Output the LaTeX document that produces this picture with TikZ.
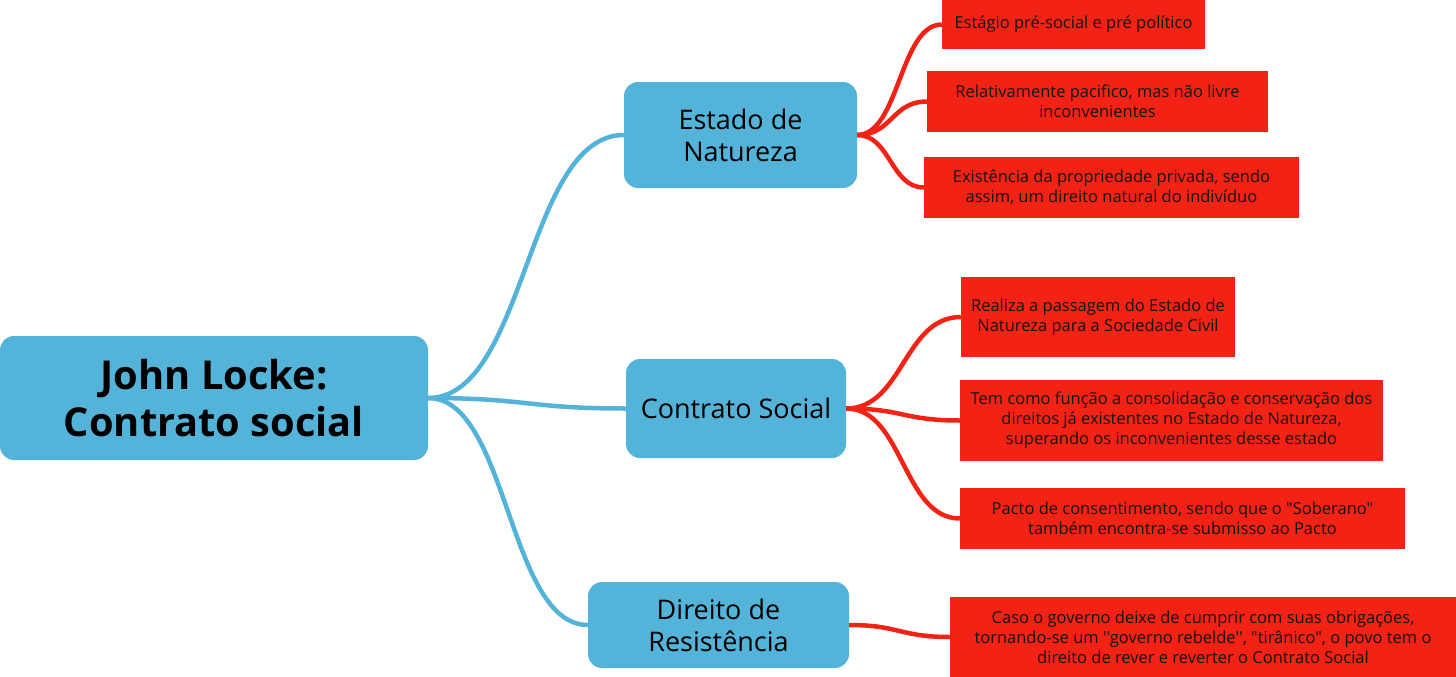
\documentclass[tikz,border=0pt]{standalone}
\usepackage{fontspec}
\setmainfont{Open Sans}
\newfontfamily\osans{Open Sans}
\definecolor{mmblue}{RGB}{84,179,217}
\definecolor{mmred}{RGB}{242,35,20}
\begin{document}
\begin{tikzpicture}[x=1pt,y=-1pt,
  rootbox/.style={fill=mmblue, rounded corners=14pt, inner sep=0pt, align=center,
    minimum width=428pt, minimum height=124pt, font=\osans\fontsize{39.8}{47}\selectfont\bfseries},
  topicbox/.style={fill=mmblue, rounded corners=14pt, inner sep=0pt, align=center,
    font=\osans\fontsize{27}{32}\selectfont},
  leafbox/.style={fill=mmred, inner sep=0pt, align=center, text=black!92,
    font=\osans\fontsize{16.5}{20}\selectfont},
  bluelink/.style={draw=mmblue, line width=4.5pt},
  redlink/.style={draw=mmred, line width=4.5pt}]
\useasboundingbox (0,0) rectangle (1456,677);

\node[rootbox] (root) at (214,398) {John Locke:\\Contrato social};

\node[topicbox, minimum width=233pt, minimum height=106pt] (estado) at (740.5,135) {Estado de\\Natureza};
\node[topicbox, minimum width=220pt, minimum height=99pt] (contrato) at (736,408.5) {Contrato Social};
\node[topicbox, minimum width=261pt, minimum height=86pt] (direito) at (718.5,625) {Direito de\\Resistência};

\node[leafbox, minimum width=263pt, minimum height=49pt] (r1) at (1073.5,24.5) {Estágio pré-social e pré político};
\node[leafbox, minimum width=341pt, minimum height=61pt] (r2) at (1097.5,101.5) {Relativamente pacifico, mas não livre\\inconvenientes};
\node[leafbox, minimum width=375pt, minimum height=61pt] (r3) at (1111.5,187.5) {Existência da propriedade privada, sendo\\assim, um direito natural do indivíduo};
\node[leafbox, minimum width=274pt, minimum height=80pt] (r4) at (1098,317) {Realiza a passagem do Estado de\\Natureza para a Sociedade Civil};
\node[leafbox, minimum width=423pt, minimum height=81pt] (r5) at (1171.5,420.5) {Tem como função a consolidação e conservação dos\\direitos já existentes no Estado de Natureza,\\superando os inconvenientes desse estado};
\node[leafbox, minimum width=445pt, minimum height=61pt] (r6) at (1182.5,518.5) {Pacto de consentimento, sendo que o "Soberano"\\também encontra-se submisso ao Pacto};
\node[leafbox, minimum width=506pt, minimum height=80pt] (r7) at (1203,637) {Caso o governo deixe de cumprir com suas obrigações,\\tornando-se um ''governo rebelde'', "tirânico", o povo tem o\\direito de rever e reverter o Contrato Social};

\draw[bluelink] (root.east) .. controls +(98,0) and +(-98,0) .. (estado.west);
\draw[bluelink] (root.east) .. controls +(99,0) and +(-99,0) .. (contrato.west);
\draw[bluelink] (root.east) .. controls +(80,0) and +(-80,0) .. (direito.west);

\draw[redlink] (estado.east) .. controls +(42,0) and +(-42,0) .. (r1.west);
\draw[redlink] (estado.east) .. controls +(35,0) and +(-35,0) .. (r2.west);
\draw[redlink] (estado.east) .. controls +(33,0) and +(-33,0) .. (r3.west);
\draw[redlink] (contrato.east) .. controls +(57,0) and +(-57,0) .. (r4.west);
\draw[redlink] (contrato.east) .. controls +(57,0) and +(-57,0) .. (r5.west);
\draw[redlink] (contrato.east) .. controls +(57,0) and +(-57,0) .. (r6.west);
\draw[redlink] (direito.east) .. controls +(50,0) and +(-50,0) .. (r7.west);
\end{tikzpicture}
\end{document}
